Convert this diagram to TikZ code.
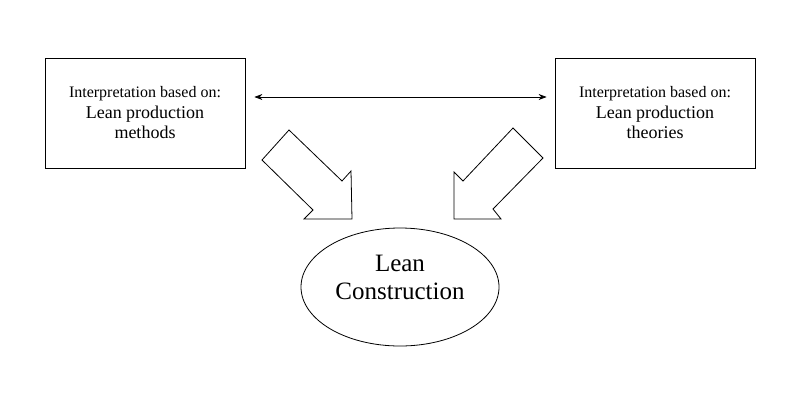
\documentclass[tikz,border=0pt]{standalone}
\usepackage{fontspec}
\setmainfont{Liberation Serif}
\usepackage{tikz}
\usetikzlibrary{positioning, shapes.geometric, arrows.meta}

\tikzset{
  viewbox/.style={draw, line width=0.8pt, minimum width=200pt, minimum height=110pt, align=center, inner sep=2pt, font=\fontsize{18}{20.5}\selectfont},
  goalnode/.style={draw, ellipse, line width=0.8pt, minimum width=198pt, minimum height=118pt},
  goaltext/.style={align=center, inner sep=0pt, font=\fontsize{25}{28}\selectfont},
  bigarrow/.style={draw, line width=0.8pt, fill=white, line join=miter},
}
\newcommand{\headtxt}[1]{{\fontsize{16}{20.5}\selectfont #1}}

\begin{document}
\begin{tikzpicture}[x=1pt, y=-1pt, >={Stealth[length=8pt, width=6pt]}]
        \useasboundingbox (0,0) rectangle (800,400);
        % 两个解释框
        \node[viewbox] (methods) at (145,113) {\headtxt{Interpretation based on:}\\ Lean production\\ methods};
        \node[viewbox] (theories) at (655,113) {\headtxt{Interpretation based on:}\\ Lean production\\ theories};
        % 目标
        \node[goalnode] (lean) at (400,287) {};
        \node[goaltext] (leantext) at ([yshift=10pt]lean.center) {Lean\\ Construction};
        % 双向箭头
        \draw[<->, line width=0.7pt, shorten <=9pt, shorten >=8pt] ([yshift=16pt]methods.east) -- ([yshift=16pt]theories.west);
        % 左边的大箭头
        \draw[bigarrow] (289,130) -- (342,181) -- (351,171) -- (352,219) -- (304,219) -- (313,210) -- (262,160) -- cycle;
        % 右边的大箭头
        \draw[bigarrow] (513,128) -- (543,158) -- (493,209) -- (501,219) -- (454,219) -- (454,172) -- (463,181) -- cycle;
\end{tikzpicture}
\end{document}
